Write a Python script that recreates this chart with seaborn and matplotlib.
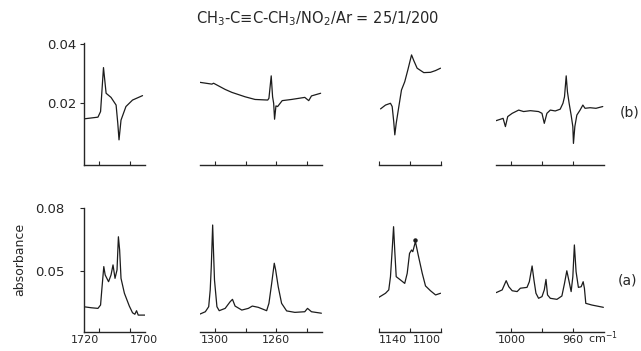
import matplotlib
matplotlib.use("Agg")
import matplotlib.pyplot as plt
import pandas as pd
import seaborn as sns

# ---------------- data ----------------
# trace (b), upper row
wn_b1 = [1730, 1720.6, 1718.9, 1717.0, 1715.3, 1712.1, 1708.8, 1707.7, 1706.9, 1705.6, 1702.4, 1698.1, 1691.6]
ab_b1 = [0.0146, 0.0152, 0.0171, 0.0320, 0.0233, 0.0219, 0.0193, 0.0131, 0.0075, 0.0142, 0.0188, 0.0210, 0.0225]

wn_b2 = [1310, 1302.2, 1301.1, 1293.5, 1289.1, 1280.4, 1273.9, 1265.6, 1264.8, 1263.3, 1262.4, 1261.7, 1261.1,
         1260.2, 1259.1, 1256.1, 1250.0, 1241.3, 1238.7, 1236.9, 1230.9]
ab_b2 = [0.0270, 0.0264, 0.0267, 0.0246, 0.0236, 0.0221, 0.0212, 0.0210, 0.0216, 0.0292, 0.0221, 0.0199, 0.0145,
         0.0190, 0.0188, 0.0208, 0.0212, 0.0219, 0.0208, 0.0224, 0.0233]

wn_b3 = [1139.0, 1135.8, 1132.6, 1131.5, 1130.5, 1129.8, 1128.9, 1127.2, 1125.5, 1123.4, 1121.4, 1119.0, 1117.5,
         1115.4, 1111.1, 1106.8, 1103.5, 1100.3]
ab_b3 = [0.0180, 0.0193, 0.0199, 0.0188, 0.0137, 0.0092, 0.0131, 0.0188, 0.0244, 0.0272, 0.0312, 0.0363, 0.0343,
         0.0318, 0.0303, 0.0304, 0.0310, 0.0318]

wn_b4 = [1010, 1007.1, 1005.4, 1003.9, 1002.4, 999.5, 995.3, 992.1, 987.7, 982.4, 980.2, 978.7, 977.0, 974.8,
         971.6, 968.4, 966.6, 965.6, 964.5, 963.7, 962.6, 961.3, 960.2, 959.8, 958.9, 957.6, 955.5, 953.7,
         952.3, 949.0, 945.2, 940.8]
ab_b4 = [0.0140, 0.0145, 0.0148, 0.0120, 0.0154, 0.0165, 0.0176, 0.0171, 0.0174, 0.0171, 0.0165, 0.0131, 0.0165,
         0.0176, 0.0173, 0.0179, 0.0199, 0.0221, 0.0292, 0.0238, 0.0199, 0.0159, 0.0120, 0.0063, 0.0120, 0.0159,
         0.0176, 0.0193, 0.0182, 0.0184, 0.0182, 0.0188]

# trace (a), lower row
wn_a1 = [1730, 1725.0, 1720.6, 1718.9, 1718.1, 1716.8, 1715.9, 1713.7, 1712.1, 1710.8, 1709.5, 1708.2, 1707.3,
         1706.5, 1705.6, 1703.4, 1700.2, 1698.1, 1696.6, 1695.5, 1694.4, 1689.5]
ab_a1 = [0.0330, 0.0325, 0.0322, 0.0338, 0.0410, 0.0521, 0.0481, 0.0449, 0.0481, 0.0529, 0.0465, 0.0505, 0.0663,
         0.0600, 0.0465, 0.0394, 0.0333, 0.0301, 0.0294, 0.0311, 0.0290, 0.0290]

wn_a2 = [1310, 1306.5, 1304.3, 1303.3, 1302.6, 1301.7, 1301.1, 1300.5, 1298.9, 1297.4, 1293.5, 1290.2, 1288.7,
         1287.0, 1282.6, 1278.3, 1275.7, 1271.8, 1266.3, 1264.8, 1263.0, 1261.3, 1260.4, 1258.7, 1256.5, 1253.2,
         1247.8, 1241.3, 1239.5, 1236.9, 1230.4]
ab_a2 = [0.0295, 0.0306, 0.0330, 0.0410, 0.0521, 0.0719, 0.0584, 0.0457, 0.0330, 0.0311, 0.0322, 0.0354, 0.0365,
         0.0333, 0.0314, 0.0322, 0.0333, 0.0327, 0.0311, 0.0346, 0.0441, 0.0537, 0.0505, 0.0425, 0.0346, 0.0310,
         0.0303, 0.0306, 0.0322, 0.0306, 0.0299]

wn_a3 = [1140, 1135.8, 1133.7, 1132.6, 1131.5, 1130.6, 1129.8, 1128.9, 1126.1, 1123.4, 1121.8, 1120.3, 1119.0,
         1118.2, 1116.5, 1114.7, 1112.1, 1110.0, 1106.8, 1103.5, 1100.3]
ab_a3 = [0.0375, 0.0394, 0.0410, 0.0473, 0.0600, 0.0711, 0.0592, 0.0473, 0.0457, 0.0441, 0.0489, 0.0584, 0.0600,
         0.0592, 0.0640, 0.0576, 0.0489, 0.0429, 0.0406, 0.0386, 0.0394]
dot_wn = [1116.5]
dot_ab = [0.0650]

wn_a4 = [1009.9, 1006.0, 1003.4, 1001.7, 999.5, 996.3, 994.2, 989.9, 988.4, 986.6, 985.4, 984.1, 982.4, 980.2,
         978.7, 977.6, 976.6, 974.8, 970.5, 967.3, 965.6, 964.1, 962.6, 961.3, 960.2, 959.2, 958.1, 956.6,
         954.8, 953.5, 952.7, 951.8, 947.9, 940.4]
ab_a4 = [0.0397, 0.0410, 0.0454, 0.0425, 0.0406, 0.0402, 0.0418, 0.0422, 0.0449, 0.0524, 0.0457, 0.0394, 0.0370,
         0.0378, 0.0410, 0.0460, 0.0386, 0.0370, 0.0365, 0.0381, 0.0441, 0.0501, 0.0449, 0.0402, 0.0473, 0.0624,
         0.0497, 0.0422, 0.0425, 0.0449, 0.0418, 0.0346, 0.0338, 0.0327]

# axis ranges and ticks per window
x_ranges = [(1730, 1690), (1310, 1230), (1140, 1100), (1010, 940)]
x_ticks = [[1720, 1700], [1300, 1280, 1260, 1240], [1140, 1120, 1100], [1000, 980, 960]]
x_ticklabels = [["1720", "1700"], ["1300", "", "1260", ""], ["1140", "", "1100"], ["1000", "", "960"]]
y_range_b = (-0.00102, 0.04034)
y_range_a = (0.02095, 0.08024)
y_ticks_b = [0.02, 0.04]
y_ticklabels_b = ["0.02", "0.04"]
y_ticks_a = [0.05, 0.08]
y_ticklabels_a = ["0.05", "0.08"]

title = r"CH$_3$-C≡C-CH$_3$/NO$_2$/Ar = 25/1/200"

# ---------------- figure ----------------
sns.set_style("ticks")
plt.rcParams["font.family"] = ["DejaVu Sans"]

W, H = 641, 351
fig = plt.figure(figsize=(W / 100, H / 100), dpi=100)
fig.patch.set_facecolor("white")

col_px = [(83.5, 145), (200, 322), (379, 441), (496, 604)]
row_px = {"b": (43, 165), "a": (207.5, 332)}

traces = {
    "b": [(wn_b1, ab_b1), (wn_b2, ab_b2), (wn_b3, ab_b3), (wn_b4, ab_b4)],
    "a": [(wn_a1, ab_a1), (wn_a2, ab_a2), (wn_a3, ab_a3), (wn_a4, ab_a4)],
}

line_color = "#1c1c1c"

for row in ["b", "a"]:
    ytop, ybot = row_px[row]
    for i, (x0, x1) in enumerate(col_px):
        ax = fig.add_axes([x0 / W, 1 - ybot / H, (x1 - x0) / W, (ybot - ytop) / H])
        wn, ab = traces[row][i]
        df = pd.DataFrame({"wavenumber": wn, "absorbance": ab})
        sns.lineplot(data=df, x="wavenumber", y="absorbance", ax=ax, sort=False,
                     estimator=None, color=line_color, lw=0.9)
        if row == "a" and i == 2:
            ax.plot(dot_wn, dot_ab, "o", color=line_color, ms=2.2)
        ax.set_xlim(*x_ranges[i])
        ax.set_ylim(*(y_range_b if row == "b" else y_range_a))
        ax.set_xlabel("")
        ax.set_ylabel("")
        ax.set_facecolor("none")
        for s in ["top", "right"]:
            ax.spines[s].set_visible(False)
        ax.spines["bottom"].set_linewidth(1.0)
        ax.set_xticks(x_ticks[i])
        ax.tick_params(axis="x", direction="in", length=3, width=0.8, pad=2,
                       labelsize=8, labelbottom=(row == "a"))
        if row == "a":
            labels = ax.set_xticklabels(x_ticklabels[i])
            if i == 0:
                labels[0].set_ha("right"); labels[1].set_ha("left")
            if i == 2:
                labels[0].set_ha("left"); labels[2].set_ha("right")
        if i == 0:
            ax.spines["left"].set_linewidth(1.0)
            if row == "b":
                ax.set_yticks(y_ticks_b)
                ax.set_yticklabels(y_ticklabels_b)
                ax.tick_params(axis="y", direction="out", length=3, width=0.8, pad=2, labelsize=9.5)
            else:
                ax.set_yticks(y_ticks_a)
                ax.set_yticklabels(y_ticklabels_a)
                ax.tick_params(axis="y", direction="out", length=3, width=0.8, pad=11, labelsize=9.5)
        else:
            ax.spines["left"].set_visible(False)
            ax.set_yticks([])

fig.text(318 / W, 1 - 19 / H, title, ha="center", va="center", fontsize=10.5)
fig.text(20 / W, 1 - 259 / H, "absorbance", rotation=90, ha="center", va="center", fontsize=9)
fig.text(620 / W, 1 - 113 / H, "(b)", ha="left", va="center", fontsize=10)
fig.text(618 / W, 1 - 281 / H, "(a)", ha="left", va="center", fontsize=10)
fig.text(588 / W, 1 - 343 / H, r"cm$^{-1}$", ha="left", va="baseline", fontsize=8)

fig.savefig("out.png", dpi=100, facecolor="white")
